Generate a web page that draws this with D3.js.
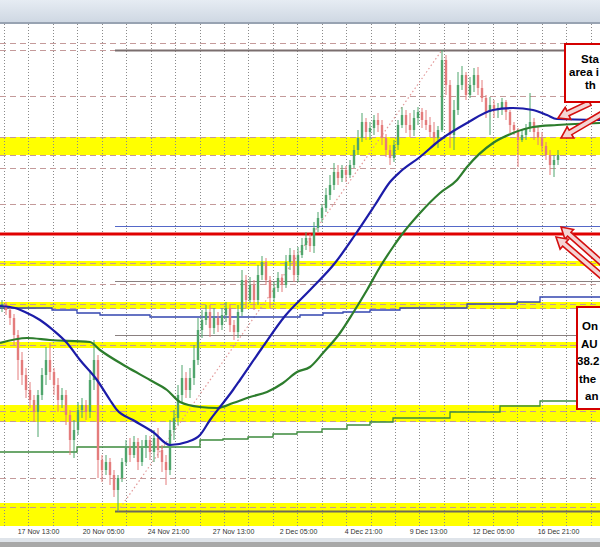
<!DOCTYPE html>
<html><head><meta charset="utf-8">
<script src="https://cdn.jsdelivr.net/npm/d3@7"></script>
<style>html,body{margin:0;padding:0;background:#fff;overflow:hidden}</style>
</head><body><svg id="c" width="600" height="547"></svg>
<script>
// ---- DATA (price x 10^4, AUDUSD-style) ----
// candles: [open, high, low, close], one per bar index 0..139
const candles = [
[6692,6700,6688,6696],[6696,6698,6685,6690],[6690,6694,6675,6682],[6682,6686,6655,6665],[6665,6670,6620,6640],
[6640,6648,6615,6625],[6625,6632,6602,6610],[6610,6618,6592,6600],[6600,6605,6578,6588],[6588,6610,6563,6605],
[6605,6632,6600,6625],[6625,6653,6615,6640],[6640,6657,6620,6628],[6628,6632,6605,6615],[6615,6622,6588,6600],
[6600,6612,6592,6605],[6605,6610,6575,6585],[6585,6590,6545,6560],[6560,6580,6542,6570],[6570,6598,6565,6590],
[6590,6602,6582,6595],[6595,6600,6580,6588],[6588,6630,6582,6620],[6620,6660,6610,6640],[6640,6645,6522,6540],
[6540,6545,6518,6530],[6530,6545,6525,6538],[6538,6542,6515,6525],[6525,6530,6503,6510],[6510,6525,6489,6522],
[6522,6542,6518,6538],[6538,6560,6534,6552],[6552,6562,6538,6545],[6545,6564,6542,6558],[6558,6562,6530,6538],
[6538,6560,6534,6552],[6552,6565,6542,6560],[6560,6564,6540,6548],[6548,6570,6538,6562],[6562,6572,6542,6550],
[6550,6555,6528,6538],[6538,6545,6515,6530],[6530,6580,6525,6570],[6570,6590,6560,6582],[6582,6615,6575,6605],
[6605,6635,6598,6622],[6622,6628,6602,6610],[6610,6632,6602,6622],[6622,6655,6615,6640],[6640,6682,6635,6670],
[6670,6690,6662,6680],[6680,6695,6675,6688],[6688,6695,6663,6672],[6672,6692,6666,6682],[6682,6688,6668,6675],
[6675,6692,6670,6685],[6685,6698,6678,6692],[6692,6696,6668,6675],[6675,6680,6660,6668],[6668,6695,6662,6688],
[6688,6730,6684,6720],[6720,6725,6692,6700],[6700,6723,6697,6715],[6715,6720,6690,6700],[6700,6735,6695,6725],
[6725,6744,6720,6738],[6738,6742,6715,6720],[6720,6724,6692,6702],[6702,6718,6698,6712],[6712,6728,6708,6722],
[6722,6726,6708,6715],[6715,6745,6712,6738],[6738,6752,6730,6745],[6745,6750,6718,6725],[6725,6753,6718,6745],
[6745,6762,6742,6755],[6755,6768,6750,6762],[6762,6766,6748,6754],[6754,6778,6747,6772],[6772,6788,6768,6782],
[6782,6796,6778,6792],[6792,6812,6788,6805],[6805,6825,6800,6815],[6815,6837,6810,6828],[6828,6835,6815,6822],
[6822,6835,6818,6830],[6830,6834,6818,6825],[6825,6840,6822,6835],[6835,6855,6832,6850],[6850,6870,6845,6862],
[6862,6887,6858,6878],[6878,6882,6860,6868],[6868,6878,6860,6872],[6872,6885,6865,6880],[6880,6887,6868,6875],
[6875,6880,6855,6862],[6862,6866,6843,6850],[6850,6855,6835,6842],[6842,6860,6838,6855],[6855,6880,6850,6875],
[6875,6893,6872,6885],[6885,6890,6867,6875],[6875,6887,6863,6870],[6870,6890,6864,6882],[6882,6893,6875,6888],
[6888,6892,6872,6880],[6880,6890,6870,6875],[6875,6883,6863,6868],[6868,6878,6855,6862],[6862,6874,6852,6870],
[6870,6950,6868,6940],[6940,6945,6905,6915],[6915,6920,6852,6865],[6865,6900,6850,6890],[6890,6928,6885,6915],
[6915,6934,6910,6925],[6925,6928,6900,6905],[6905,6923,6902,6915],[6915,6932,6908,6925],[6925,6933,6905,6912],
[6912,6920,6898,6902],[6902,6905,6882,6888],[6888,6903,6865,6895],[6895,6900,6882,6890],[6890,6897,6882,6892],
[6892,6902,6885,6898],[6898,6900,6880,6888],[6888,6890,6867,6875],[6875,6878,6865,6870],[6870,6872,6833,6860],
[6860,6870,6858,6865],[6865,6876,6860,6872],[6872,6907,6868,6878],[6878,6882,6860,6868],[6868,6874,6855,6862],
[6862,6868,6848,6854],[6854,6858,6840,6845],[6845,6850,6825,6835],[6835,6845,6823,6840],[6840,6850,6835,6845]
];
// moving averages: [bar index, value]
const ma100 = [[-0.5,6694],[3.25,6692],[5.75,6688],[9.5,6680],[12.75,6670],[16.25,6657],[19.5,6640],[23.75,6620],[27,6600],[28.75,6590],[32.75,6580],[37.75,6568],[42,6555],[46.25,6558],[49.5,6565],[52,6580],[54.5,6593],[57.75,6610],[59.5,6620],[65,6652],[70.75,6684],[77,6710],[83.25,6737],[88.25,6765],[93.25,6795],[97,6818],[99.5,6828],[104.5,6843],[109.5,6860],[116.25,6877],[122.75,6890],[127.75,6892],[132.75,6890],[136.25,6885],[138.75,6881],[149.5,6880]];
const ma200 = [[-0.5,6657],[6.25,6662],[12,6660],[22,6658],[24.5,6650],[31.25,6633],[37,6620],[41.25,6610],[44.5,6598],[49.5,6593],[53.75,6592],[57.75,6597],[62,6603],[66.25,6608],[70.25,6617],[73.75,6628],[77,6633],[80.25,6647],[84.5,6667],[87.75,6687],[91.25,6710],[94.5,6733],[97.75,6753],[99.5,6763],[104.5,6787],[109.5,6807],[113.75,6820],[116.25,6833],[122.75,6857],[127.75,6867],[132.75,6873],[138.75,6875],[149.5,6877]];
const ma4hBlue = [[-0.5,6692],[12.5,6690],[18.75,6687],[24.5,6685],[37,6683],[74.5,6685],[80.25,6687],[85.25,6688],[92,6690],[99.5,6692],[116.25,6696],[128.75,6698],[134.5,6703],[149.5,6703]];
const ma4hGreen = [[-0.5,6548],[18.75,6553],[49.5,6560],[55.25,6561],[61.5,6563],[67.75,6566],[73.75,6568],[80,6571],[86.25,6575],[92,6578],[97.75,6582],[112,6588],[124.5,6594],[134.5,6599],[149.5,6602]];
const yellowZones = [[6845,6863],[6734,6739],[6691,6698],[6652,6658],[6578,6595],[6474,6497]];
const zoneDashes = [6863,6845,6737,6696,6692,6655,6589,6579,6493];
const dashedLevels = [6957,6950,6904,6832,6796,6716,6522];
const redLevel = 6766;
const fibRatios = [0,0.382,0.5,0.618,1];
const tickIdx = [9,25.25,41.5,57.75,74,90.25,106.5,122.75,139];
const tickLabels = ["17 Nov 13:00","20 Nov 05:00","24 Nov 21:00","27 Nov 13:00","2 Dec 05:00","4 Dec 21:00","9 Dec 13:00","12 Dec 05:00","16 Dec 21:00"];
// note text as visible in the (right-cropped) screenshot
const noteTop = ["Sta","area i","th"];
const noteBottom = ["On","AU","38.2","the","an"];

// ---- DRAW ----
const W=600,H=547, pTop=24, pBot=526;
const svg=d3.select("#c");
const x=d3.scaleLinear().domain([-0.5,149.5]).range([0,W]);
const y=d3.scaleLinear().domain([6474,6976]).range([pBot,pTop]);

svg.append("rect").attr("width",W).attr("height",H).attr("fill","#fff");
svg.append("clipPath").attr("id","pc").append("rect").attr("x",0).attr("y",pTop).attr("width",W).attr("height",pBot-pTop);
const plot=svg.append("g").attr("clip-path","url(#pc)");

plot.selectAll(".yz").data(yellowZones).join("rect")
  .attr("x",0).attr("width",W).attr("y",d=>y(d[1])).attr("height",d=>y(d[0])-y(d[1])).attr("fill","#ffff00");

// vertical dotted grid
const gridIdx=d3.range(0.5,150,6.11);
plot.selectAll(".vg").data(gridIdx).join("line")
  .attr("x1",d=>Math.round(x(d))+0.5).attr("x2",d=>Math.round(x(d))+0.5).attr("y1",pTop).attr("y2",pBot)
  .attr("stroke","#8a8a8a").attr("stroke-width",1).attr("stroke-dasharray","1,2");

plot.selectAll(".dl").data(dashedLevels.concat(zoneDashes)).join("line")
  .attr("x1",0).attr("x2",W).attr("y1",d=>Math.round(y(d))+0.5).attr("y2",d=>Math.round(y(d))+0.5)
  .attr("stroke","#c49a9a").attr("stroke-width",1).attr("stroke-dasharray","6,4");

// fib retracement from low bar to high bar
const lowI=d3.minIndex(candles,d=>d[2]), highI=d3.maxIndex(candles,d=>d[1]);
const lowV=candles[lowI][2], highV=candles[highI][1];
const fibCol={0:"#7a6e6e",0.382:"#5568c8",0.5:"#8a8080",0.618:"#8a8080",1:"#6e6a5a"};
plot.selectAll(".fib").data(fibRatios).join("line")
  .attr("x1",x(lowI)-3).attr("x2",W)
  .attr("y1",r=>Math.round(y(highV-(highV-lowV)*r))+0.5).attr("y2",r=>Math.round(y(highV-(highV-lowV)*r))+0.5)
  .attr("stroke",r=>fibCol[r]).attr("stroke-width",r=>r===0||r===1?2:1.2);
plot.append("line").attr("x1",x(lowI)).attr("y1",y(lowV)).attr("x2",x(highI)).attr("y2",y(highV))
  .attr("stroke","#e39a9a").attr("stroke-width",1.2).attr("stroke-dasharray","1.5,2.5");

const line=d3.line().x(d=>x(d[0])).y(d=>y(d[1])).curve(d3.curveMonotoneX);
const step=d3.line().x(d=>x(d[0])).y(d=>y(d[1])).curve(d3.curveStepAfter);
plot.append("path").attr("d",step(ma4hBlue)).attr("fill","none").attr("stroke","#3346b0").attr("stroke-width",1.3);
plot.append("path").attr("d",step(ma4hGreen)).attr("fill","none").attr("stroke","#3c8a3c").attr("stroke-width",1.3);

plot.append("line").attr("x1",0).attr("x2",W).attr("y1",y(redLevel)).attr("y2",y(redLevel))
  .attr("stroke","#e00000").attr("stroke-width",3.2);

// candles
const cg=plot.append("g");
cg.selectAll(".w").data(candles).join("line")
  .attr("x1",(d,i)=>x(i)).attr("x2",(d,i)=>x(i)).attr("y1",d=>y(d[1])).attr("y2",d=>y(d[2]))
  .attr("stroke",d=>d[3]>=d[0]?"#4fa56c":"#e47c7c").attr("stroke-width",1);
cg.selectAll(".b").data(candles).join("rect")
  .attr("x",(d,i)=>x(i)-1.2).attr("width",2.4)
  .attr("y",d=>y(Math.max(d[0],d[3]))).attr("height",d=>Math.max(1,Math.abs(y(d[0])-y(d[3]))))
  .attr("fill",d=>d[3]>=d[0]?"#4fa56c":"#e47c7c");

plot.append("path").attr("d",line(ma200)).attr("fill","none").attr("stroke","#2d7d2d").attr("stroke-width",2.2);
plot.append("path").attr("d",line(ma100)).attr("fill","none").attr("stroke","#1c1ca8").attr("stroke-width",2.2);

// header & footer
const gr=svg.append("defs").append("linearGradient").attr("id","hg").attr("x1",0).attr("x2",0).attr("y1",0).attr("y2",1);
gr.append("stop").attr("offset",0).attr("stop-color","#e6ecf3");
gr.append("stop").attr("offset",1).attr("stop-color","#cfd8e3");
svg.append("rect").attr("width",W).attr("height",22).attr("fill","url(#hg)");
svg.append("rect").attr("y",22).attr("width",W).attr("height",2).attr("fill","#98a3b2");
svg.append("rect").attr("y",538).attr("width",W).attr("height",4).attr("fill","#dfe4ea");
svg.append("rect").attr("y",542).attr("width",W).attr("height",5).attr("fill","#a8a8a8");

// x axis labels
const ax=svg.append("g").attr("transform",`translate(0,${pBot})`)
  .call(d3.axisBottom(x).tickValues(tickIdx).tickFormat((d,i)=>tickLabels[i]).tickSize(0).tickPadding(3));
ax.select(".domain").remove();
ax.selectAll("text").attr("font-family","Liberation Sans, Arial, sans-serif").attr("font-size",7).attr("fill","#333");

// arrows
function arrow(x1,y1,x2,y2){
  const a=Math.atan2(y2-y1,x2-x1), L=Math.hypot(x2-x1,y2-y1), hl=11, hw=6.5, sw=2.6;
  const pts=[[0,-sw],[L-hl,-sw],[L-hl,-hw],[L,0],[L-hl,hw],[L-hl,sw],[0,sw]];
  const c=Math.cos(a), s=Math.sin(a);
  return pts.map(p=>[x1+p[0]*c-p[1]*s, y1+p[0]*s+p[1]*c]);
}
const arrowsData=[[590,103,558,118],[612,108,561,138],[612,272,561,227],[612,285,556,237]];
svg.selectAll(".ar").data(arrowsData).join("polygon")
  .attr("points",d=>arrow(...d).map(p=>p.join(",")).join(" "))
  .attr("fill","#f4d4d4").attr("stroke","#d41010").attr("stroke-width",1.6).attr("stroke-linejoin","miter");

// note boxes
svg.append("rect").attr("x",565).attr("y",44).attr("width",80).attr("height",58).attr("fill","#fff").attr("stroke","#d40000").attr("stroke-width",2);
svg.append("rect").attr("x",577).attr("y",307).attr("width",80).attr("height",102).attr("fill","#fff").attr("stroke","#d40000").attr("stroke-width",2);
const nf="Liberation Sans, Arial, sans-serif";
svg.selectAll(".nt").data(noteTop).join("text")
  .attr("x",(d,i)=>[581,569,585][i]).attr("y",(d,i)=>63+i*13)
  .attr("font-family",nf).attr("font-weight","bold").attr("font-size",11.5).attr("fill","#000").text(d=>d);
svg.selectAll(".nb").data(noteBottom).join("text")
  .attr("x",(d,i)=>[582,581,577,579,585][i]).attr("y",(d,i)=>330+i*17.5)
  .attr("font-family",nf).attr("font-weight","bold").attr("font-size",11.5).attr("fill","#000").text(d=>d);
</script></body></html>
